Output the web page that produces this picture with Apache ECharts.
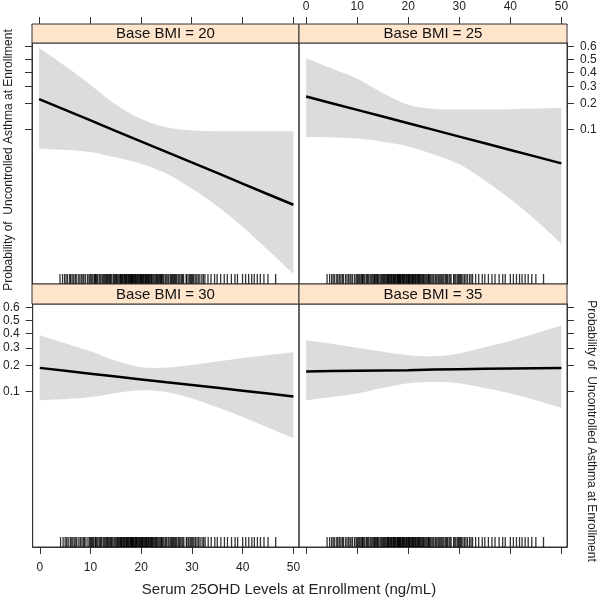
<!DOCTYPE html>
<html>
<head>
<meta charset="utf-8">
<script src="https://cdn.jsdelivr.net/npm/echarts@6/dist/echarts.min.js"></script>
<style>
html, body { margin: 0; padding: 0; background: #fff; }
#chart { width: 600px; height: 599px; }
</style>
</head>
<body>
<div id="chart"></div>
<script>
// Serum 25OHD points (ng/mL)
var xs = [0, 5, 10, 15, 20, 25, 30, 35, 40, 45, 50];

// fitted value and 95% band per panel, logit scale
var fit20   = [-1.24, -1.57, -1.90, -2.24, -2.57, -2.90, -3.23, -3.56, -3.90, -4.23, -4.56];
var upper20 = [0.36, -0.19, -0.78, -1.40, -1.86, -2.13, -2.22, -2.25, -2.25, -2.25, -2.25];
var lower20 = [-2.80, -2.84, -2.90, -3.07, -3.27, -3.58, -4.05, -4.60, -5.25, -5.98, -6.73];

var fit25   = [-1.16, -1.37, -1.58, -1.79, -2.00, -2.21, -2.42, -2.63, -2.84, -3.05, -3.26];
var upper25 = [0.04, -0.28, -0.60, -1.05, -1.42, -1.55, -1.57, -1.57, -1.56, -1.54, -1.52];
var lower25 = [-2.43, -2.44, -2.48, -2.58, -2.73, -2.98, -3.29, -3.80, -4.38, -5.05, -5.79];

var fit30   = [-1.47, -1.56, -1.65, -1.74, -1.83, -1.92, -2.00, -2.09, -2.18, -2.27, -2.36];
var upper30 = [-0.45, -0.70, -0.95, -1.25, -1.45, -1.46, -1.38, -1.27, -1.16, -1.07, -0.98];
var lower30 = [-2.48, -2.44, -2.38, -2.25, -2.17, -2.22, -2.42, -2.70, -3.00, -3.33, -3.66];

var fit35   = [-1.58, -1.57, -1.56, -1.55, -1.54, -1.52, -1.51, -1.50, -1.49, -1.48, -1.47];
var upper35 = [-0.61, -0.72, -0.84, -0.97, -1.08, -1.11, -1.02, -0.83, -0.63, -0.39, -0.15];
var lower35 = [-2.48, -2.38, -2.27, -2.10, -1.95, -1.90, -1.95, -2.10, -2.27, -2.48, -2.72];

// observed 25OHD values (rug)
var rugX = [4.1, 4.6, 5.0, 5.3, 5.6, 6.0, 6.2, 6.5, 6.8, 7.1, 7.3, 7.7, 8.0, 8.3, 8.6, 8.8, 9.1, 9.5,
	9.8, 10.0, 10.2, 10.4, 10.6, 10.9, 11.0, 11.1, 11.3, 11.5, 11.8, 12.0, 12.2, 12.5, 12.7, 12.9,
	13.1, 13.3, 13.4, 13.6, 13.8, 14.0, 14.1, 14.3, 14.6, 14.8, 15.0, 15.2, 15.3, 15.5, 15.7, 15.9,
	16.0, 16.1, 16.2, 16.4, 16.5, 16.7, 16.8, 17.0, 17.1, 17.2, 17.3, 17.5, 17.6, 17.8, 17.9, 18.0,
	18.1, 18.2, 18.3, 18.4, 18.5, 18.6, 18.8, 18.9, 19.0, 19.1, 19.3, 19.4, 19.6, 19.7, 19.9, 20.0,
	20.1, 20.2, 20.3, 20.5, 20.6, 20.8, 20.9, 21.0, 21.1, 21.3, 21.4, 21.5, 21.7, 21.8, 22.0, 22.1,
	22.2, 22.4, 22.6, 22.8, 23.0, 23.1, 23.3, 23.5, 23.7, 23.9, 24.0, 24.1, 24.3, 24.5, 24.8, 25.0,
	25.3, 25.5, 25.8, 26.0, 26.2, 26.4, 26.6, 26.8, 27.0, 27.3, 27.5, 27.7, 28.0, 28.2, 28.4, 28.9,
	29.0, 29.3, 29.6, 29.8, 30.0, 30.2, 30.4, 30.7, 31.0, 31.3, 31.6, 32.0, 32.3, 32.6, 33.2, 33.8,
	34.5, 35.0, 35.7, 36.4, 37.0, 37.8, 38.5, 39.0, 40.0, 40.6, 41.2, 41.8, 42.3, 42.9, 43.5, 44.2,
	45.0, 46.5];

var panelTitles = ['Base BMI = 20', 'Base BMI = 25', 'Base BMI = 30', 'Base BMI = 35'];
var probTicks = [0.1, 0.2, 0.3, 0.4, 0.5, 0.6];
var xTicks = [0, 10, 20, 30, 40, 50];
var yTitle = 'Probability of  Uncontrolled Asthma at Enrollment';
var xTitle = 'Serum 25OHD Levels at Enrollment (ng/mL)';

function logit(p) { return Math.log(p / (1 - p)); }
function invLogit(v) { return 1 / (1 + Math.exp(-v)); }

// catmull-rom -> cubic bezier segments (pixel points already from api.coord)
function smoothSeg(pts) {
	var d = '';
	for (var k = 0; k < pts.length - 1; k++) {
		var p0 = pts[Math.max(k - 1, 0)], p1 = pts[k], p2 = pts[k + 1], p3 = pts[Math.min(k + 2, pts.length - 1)];
		var c1 = [p1[0] + (p2[0] - p0[0]) / 6, p1[1] + (p2[1] - p0[1]) / 6];
		var c2 = [p2[0] - (p3[0] - p1[0]) / 6, p2[1] - (p3[1] - p1[1]) / 6];
		d += ' C' + c1[0] + ',' + c1[1] + ' ' + c2[0] + ',' + c2[1] + ' ' + p2[0] + ',' + p2[1];
	}
	return d;
}

var yMin = -7.05, yMax = 0.52;
var xMin = -1.4, xMax = 51.1;
var font = '"Liberation Sans", Arial, sans-serif';
var ink = '#333';

// panel layout
var panels = [
	{ fit: fit20, upper: upper20, lower: lower20, left: 32,  top: 43,  width: 267, height: 241, strip: 19, xPos: 'top',    xLab: false, yPos: 'left',  yLab: false },
	{ fit: fit25, upper: upper25, lower: lower25, left: 299, top: 43,  width: 268, height: 241, strip: 19, xPos: 'top',    xLab: true,  yPos: 'right', yLab: true },
	{ fit: fit30, upper: upper30, lower: lower30, left: 32,  top: 304, width: 267, height: 243, strip: 20, xPos: 'bottom', xLab: true,  yPos: 'left',  yLab: true },
	{ fit: fit35, upper: upper35, lower: lower35, left: 299, top: 304, width: 268, height: 243, strip: 20, xPos: 'bottom', xLab: false, yPos: 'right', yLab: false }
];

var grid = [], xAxis = [], yAxis = [], series = [], graphic = [];
var yTickVals = probTicks.map(logit);

panels.forEach(function (p, i) {
	grid.push({
		left: p.left, top: p.top, width: p.width, height: p.height,
		show: true, borderColor: ink, borderWidth: 1, backgroundColor: 'transparent'
	});
	xAxis.push({
		gridIndex: i, type: 'value', min: xMin, max: xMax,
		position: p.xPos,
		offset: p.xPos === 'top' ? p.strip : 0,
		axisLine: { show: true, onZero: false, lineStyle: { color: ink, width: 1 } },
		axisTick: { show: true, length: 7, customValues: xTicks, lineStyle: { color: ink } },
		axisLabel: {
			show: p.xLab, customValues: xTicks,
			margin: p.xPos === 'top' ? 11 : 15,
			color: '#222', fontSize: 12, fontFamily: font
		},
		splitLine: { show: false }
	});
	yAxis.push({
		gridIndex: i, type: 'value', min: yMin, max: yMax,
		position: p.yPos,
		axisLine: { show: true, onZero: false, lineStyle: { color: ink, width: 1 } },
		axisTick: { show: true, length: 7, customValues: yTickVals, lineStyle: { color: ink } },
		axisLabel: {
			show: p.yLab, customValues: yTickVals, margin: 13,
			color: '#222', fontSize: 12, fontFamily: font,
			formatter: function (v) { return invLogit(v).toFixed(1); }
		},
		splitLine: { show: false }
	});

	// confidence band: upper edge, then lower edge reversed
	series.push({
		type: 'custom', xAxisIndex: i, yAxisIndex: i, z: 1, silent: true,
		data: [[0, 0]],
		renderItem: function (params, api) {
			var up = [], lo = [];
			for (var k = 0; k < xs.length; k++) up.push(api.coord([xs[k], p.upper[k]]));
			for (var j = xs.length - 1; j >= 0; j--) lo.push(api.coord([xs[j], p.lower[j]]));
			var d = 'M' + up[0][0] + ',' + up[0][1] + smoothSeg(up) +
				' L' + lo[0][0] + ',' + lo[0][1] + smoothSeg(lo) + ' Z';
			return { type: 'path', shape: { pathData: d, layout: 'none' }, style: { fill: '#dcdcdc' } };
		}
	});
	// fitted line
	series.push({
		type: 'line', xAxisIndex: i, yAxisIndex: i, z: 4,
		data: xs.map(function (x, k) { return [x, p.fit[k]]; }),
		symbol: 'none', silent: true,
		lineStyle: { color: '#000', width: 2.5 }
	});
	// rug
	series.push({
		type: 'scatter', xAxisIndex: i, yAxisIndex: i, z: 5, clip: false,
		data: rugX.map(function (x) { return [x, yMin]; }),
		symbol: 'rect', symbolSize: [1.3, 10], symbolOffset: [0, -5], silent: true,
		itemStyle: { color: '#000' }
	});

	// strip
	graphic.push({
		type: 'rect', z: 10,
		shape: { x: p.left, y: p.top - p.strip, width: p.width, height: p.strip },
		style: { fill: '#ffe5cc', stroke: ink, lineWidth: 1 }
	});
	graphic.push({
		type: 'text', z: 11,
		x: p.left + p.width / 2, y: p.top - p.strip / 2 + 0.5,
		style: { text: panelTitles[i], fill: '#111', font: '15px ' + font, align: 'center', verticalAlign: 'middle' }
	});
});

graphic.push({
	type: 'text', x: 9, y: 160, rotation: Math.PI / 2,
	style: { text: yTitle, fill: '#222', font: '12px ' + font, align: 'center', verticalAlign: 'middle' }
});
graphic.push({
	type: 'text', x: 591, y: 431, rotation: -Math.PI / 2,
	style: { text: yTitle, fill: '#222', font: '12px ' + font, align: 'center', verticalAlign: 'middle' }
});
graphic.push({
	type: 'text', x: 289, y: 590,
	style: { text: xTitle, fill: '#222', font: '15px ' + font, align: 'center', verticalAlign: 'middle' }
});

var chart = echarts.init(document.getElementById('chart'));
chart.setOption({
	animation: false,
	backgroundColor: '#fff',
	grid: grid,
	xAxis: xAxis,
	yAxis: yAxis,
	series: series,
	graphic: graphic
});
</script>
</body>
</html>
